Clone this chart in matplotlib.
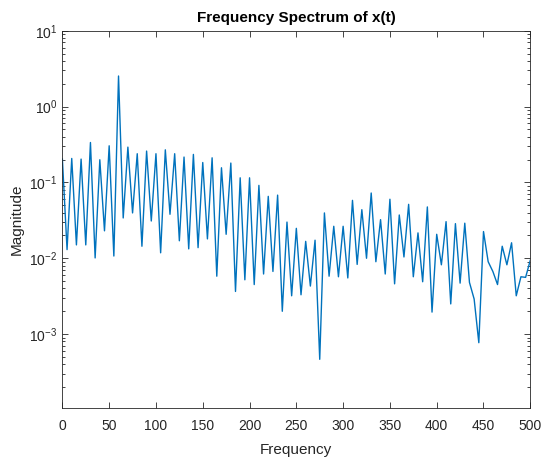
import matplotlib
matplotlib.use("Agg")
import matplotlib.pyplot as plt
import numpy as np

plt.rcParams['font.family'] = ['Liberation Sans', 'DejaVu Sans']
plt.rcParams['mathtext.fontset'] = 'custom'
plt.rcParams['mathtext.rm'] = 'Liberation Sans'

# Frequency bins (Hz)
freq = [0, 5, 10, 15, 20, 25, 30, 35, 40, 45, 50, 55, 60, 65, 70, 75, 80, 85, 90, 95,
        100, 105, 110, 115, 120, 125, 130, 135, 140, 145, 150, 155, 160, 165, 170, 175,
        180, 185, 190, 195, 200, 205, 210, 215, 220, 225, 230, 235, 240, 245, 250, 255,
        260, 265, 270, 275, 280, 285, 290, 295, 300, 305, 310, 315, 320, 325, 330, 335,
        340, 345, 350, 355, 360, 365, 370, 375, 380, 385, 390, 395, 400, 405, 410, 415,
        420, 425, 430, 435, 440, 445, 450, 455, 460, 465, 470, 475, 480, 485, 490, 495, 500]

# Magnitude
magnitude = [0.203, 0.013, 0.207, 0.015, 0.203, 0.015, 0.336, 0.0101, 0.199, 0.023,
             0.304, 0.0107, 2.53, 0.034, 0.292, 0.0396, 0.239, 0.0144, 0.259, 0.031,
             0.239, 0.0118, 0.269, 0.038, 0.239, 0.017, 0.216, 0.0133, 0.234, 0.0138,
             0.183, 0.018, 0.211, 0.0058, 0.156, 0.0207, 0.18, 0.00365, 0.115, 0.0052,
             0.115, 0.0045, 0.0914, 0.0062, 0.0655, 0.0067, 0.068, 0.002, 0.030, 0.0032,
             0.0248, 0.0033, 0.0167, 0.0043, 0.0173, 0.000465, 0.0396, 0.0058, 0.0264, 0.0057,
             0.0264, 0.0055, 0.058, 0.0083, 0.0437, 0.01, 0.0725, 0.009, 0.0323, 0.0062,
             0.060, 0.0046, 0.0372, 0.0104, 0.0514, 0.0057, 0.0216, 0.0049, 0.0475, 0.00195,
             0.0207, 0.0082, 0.0304, 0.0025, 0.0286, 0.0047, 0.029, 0.0048, 0.0029, 0.00077,
             0.0225, 0.009, 0.0067, 0.0045, 0.0144, 0.0082, 0.016, 0.0032, 0.0057, 0.0056,
             0.0094]

xticks = [0, 50, 100, 150, 200, 250, 300, 350, 400, 450, 500]

axcol = '#262626'

fig = plt.figure(figsize=(5.41, 4.58), dpi=100)
ax = fig.add_axes([0.1153, 0.1098, 0.8649, 0.8231])

ax.plot(freq, magnitude, color='#0072BD', linewidth=1.0)
ax.set_yscale('log')
ax.set_xlim(0, 500)
ax.set_ylim(1.07e-4, 1e1)
ax.set_xticks(xticks)

ax.tick_params(which='both', direction='in', top=True, right=True,
               colors=axcol, labelcolor=axcol, labelsize=10, width=0.6)
ax.tick_params(which='major', length=4.5)
ax.tick_params(which='minor', length=2.5)
ax.tick_params(axis='x', pad=8)
for s in ax.spines.values():
    s.set_color(axcol)
    s.set_linewidth(0.6)

ax.set_xlabel('Frequency', fontsize=11, color=axcol, labelpad=7)
ax.set_ylabel('Magnitude', fontsize=11, color=axcol)
ax.set_title('Frequency Spectrum of x(t)', fontsize=11, fontweight='bold', color='black', pad=6)

fig.savefig('out.png', dpi=100)
